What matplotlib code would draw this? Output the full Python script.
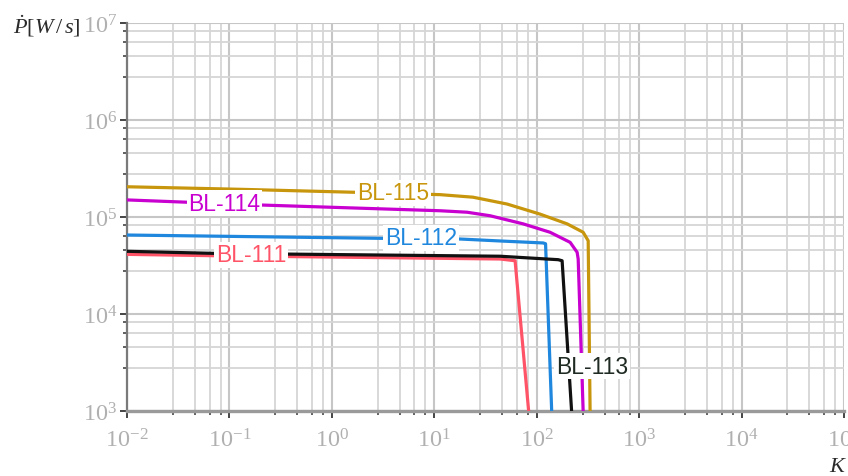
import numpy as np
import matplotlib
matplotlib.use("Agg")
import matplotlib.pyplot as plt
from matplotlib.ticker import FixedLocator, FuncFormatter, NullFormatter

plt.rcParams["mathtext.fontset"] = "custom"
plt.rcParams["mathtext.rm"] = "Liberation Serif"
plt.rcParams["mathtext.it"] = "Liberation Serif:italic"
plt.rcParams["mathtext.bf"] = "Liberation Serif:bold"

# Power rate P-dot [W/s] against K for each BL series
k_111 = [0.01, 0.0692, 43.9, 61.5, 83.4]
p_111 = [4.12e4, 3.99e4, 3.69e4, 3.54e4, 1.0e3]

k_112 = [0.01, 2.96, 17.9, 43.9, 115.5, 122, 140]
p_112 = [6.52e4, 6.03e4, 5.93e4, 5.66e4, 5.40e4, 5.30e4, 1.0e3]

k_113 = [0.01, 0.0692, 43.9, 162, 177, 219]
p_113 = [4.43e4, 4.22e4, 3.94e4, 3.63e4, 3.54e4, 1.0e3]

k_114 = [0.01, 0.0386, 0.199, 11.4, 20.9, 35.1, 73.6, 135, 212, 248, 254, 284]
p_114 = [1.50e5, 1.42e5, 1.33e5, 1.16e5, 1.12e5, 1.03e5, 8.5e4, 6.96e4,
         5.48e4, 4.33e4, 3.69e4, 1.0e3]

k_115 = [0.01, 0.127, 1.61, 11.4, 23.9, 51.4, 108, 198, 284, 318, 332]
p_115 = [2.05e5, 1.93e5, 1.80e5, 1.70e5, 1.60e5, 1.36e5, 1.07e5, 8.5e4,
         6.96e4, 5.7e4, 1.0e3]

series_names = ["BL-111", "BL-112", "BL-113", "BL-114", "BL-115"]
series_k = [k_111, k_112, k_113, k_114, k_115]
series_p = [p_111, p_112, p_113, p_114, p_115]
series_colors = ["#ff5468", "#1f87dd", "#111111", "#c800d0", "#c8960c"]
label_colors = ["#ff5468", "#1f87dd", "#1e2a22", "#c800d0", "#c8960c"]

# inline label anchors (K, P)
label_k = [0.1626, 7.43, 347, 0.0896, 3.96]
label_p = [4.06e4, 6.08e4, 2.91e3, 1.39e5, 1.77e5]

x_decades = list(range(-2, 6))
y_decades = list(range(3, 8))

fig = plt.figure(figsize=(8.48, 4.77), dpi=100)
ax = fig.add_axes([127 / 848, 65 / 477, (844 - 127) / 848, (412 - 24) / 477])
ax.set_xscale("log")
ax.set_yscale("log")
ax.set_xlim(10.0 ** x_decades[0], 10.0 ** x_decades[-1])
ax.set_ylim(10.0 ** y_decades[0], 10.0 ** y_decades[-1])

# minor subdivisions at 1 + 1.8k within every decade
sub = [1 + 1.8 * k for k in range(1, 5)]
x_minor = [s * 10.0 ** d for d in x_decades[:-1] for s in sub]
y_minor = [s * 10.0 ** d for d in y_decades[:-1] for s in sub]

ax.xaxis.set_major_locator(FixedLocator([10.0 ** d for d in x_decades]))
ax.yaxis.set_major_locator(FixedLocator([10.0 ** d for d in y_decades]))
ax.xaxis.set_minor_locator(FixedLocator(x_minor))
ax.yaxis.set_minor_locator(FixedLocator(y_minor))
fmt = FuncFormatter(lambda v, pos: r"$10^{%d}$" % int(round(np.log10(v))))
ax.xaxis.set_major_formatter(fmt)
ax.yaxis.set_major_formatter(fmt)
ax.xaxis.set_minor_formatter(NullFormatter())
ax.yaxis.set_minor_formatter(NullFormatter())

ax.grid(True, which="major", color="#c6c6c6", lw=1.5)
ax.grid(True, which="minor", color="#d6d6d6", lw=1.3)
ax.set_axisbelow(True)

for side in ("top", "right"):
    ax.spines[side].set_visible(False)
ax.spines["left"].set_color("#7a7a7a")
ax.spines["left"].set_linewidth(1.6)
ax.spines["bottom"].set_color("#9a9a9a")
ax.spines["bottom"].set_linewidth(2.4)

ax.tick_params(which="major", length=5, width=1.4, color="#444444",
               labelcolor="#b0b0b0", labelsize=17.5)
ax.tick_params(which="minor", length=3, width=1.2, color="#444444")
ax.tick_params(axis="y", which="major", pad=2)
ax.tick_params(axis="x", which="major", pad=7)

for name, ks, ps, col, lcol, lk, lp in zip(series_names, series_k, series_p,
                                           series_colors, label_colors,
                                           label_k, label_p):
    ax.plot(ks, ps, color=col, lw=2.3, solid_joinstyle="round", zorder=3)
    ax.text(lk, lp, name, color=lcol, fontsize=16.5, family="Liberation Sans",
            ha="center", va="center", zorder=5,
            bbox=dict(boxstyle="square,pad=0.08", fc="white", ec="none"))

fig.text(13 / 848, 1 - 26 / 477, r"$\dot{P}[W\,/\,s]$", fontsize=16,
         color="#2b2b2b", ha="left", va="center")
fig.text(838 / 848, 1 - 466 / 477, r"$K$", fontsize=16, color="#2b2b2b",
         ha="center", va="center")

fig.savefig("out.png", dpi=100)
